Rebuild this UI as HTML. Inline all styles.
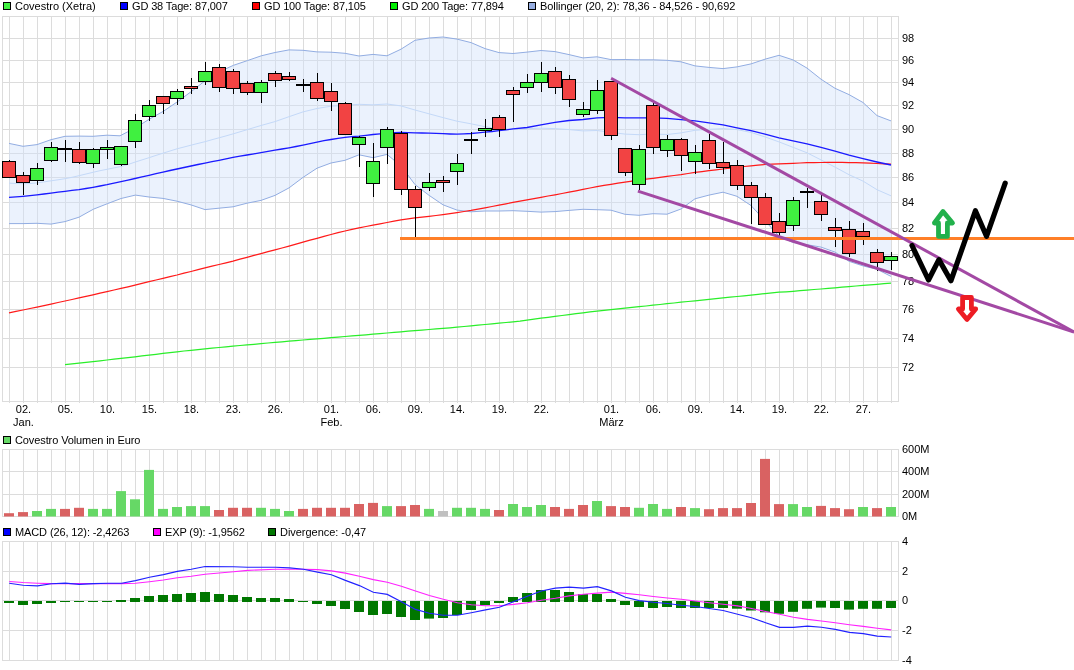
<!DOCTYPE html>
<html><head><meta charset="utf-8"><style>html,body{margin:0;padding:0;background:#fff;width:1074px;height:670px;overflow:hidden}</style></head>
<body>
<svg width="1074" height="670" viewBox="0 0 1074 670" style="display:block;will-change:transform">
<rect width="1074" height="670" fill="#fff"/>
<path d="M9.5 16 V403 M23.5 16 V403 M37.5 16 V403 M51.5 16 V403 M65.5 16 V403 M79.5 16 V403 M93.5 16 V403 M107.5 16 V403 M121.5 16 V403 M135.5 16 V403 M149.5 16 V403 M163.5 16 V403 M177.5 16 V403 M191.5 16 V403 M205.5 16 V403 M219.5 16 V403 M233.5 16 V403 M247.5 16 V403 M261.5 16 V403 M275.5 16 V403 M289.5 16 V403 M303.5 16 V403 M317.5 16 V403 M331.5 16 V403 M345.5 16 V403 M359.5 16 V403 M373.5 16 V403 M387.5 16 V403 M401.5 16 V403 M415.5 16 V403 M429.5 16 V403 M443.5 16 V403 M457.5 16 V403 M471.5 16 V403 M485.5 16 V403 M499.5 16 V403 M513.5 16 V403 M527.5 16 V403 M541.5 16 V403 M555.5 16 V403 M569.5 16 V403 M583.5 16 V403 M597.5 16 V403 M611.5 16 V403 M625.5 16 V403 M639.5 16 V403 M653.5 16 V403 M667.5 16 V403 M681.5 16 V403 M695.5 16 V403 M709.5 16 V403 M723.5 16 V403 M737.5 16 V403 M751.5 16 V403 M765.5 16 V403 M779.5 16 V403 M793.5 16 V403 M807.5 16 V403 M821.5 16 V403 M835.5 16 V403 M849.5 16 V403 M863.5 16 V403 M877.5 16 V403 M891.5 16 V403 M2 38.5 H898 M2 60.5 H898 M2 82.5 H898 M2 105.5 H898 M2 129.5 H898 M2 153.5 H898 M2 177.5 H898 M2 202.5 H898 M2 228.5 H898 M2 254.5 H898 M2 281.5 H898 M2 309.5 H898 M2 338.5 H898 M2 367.5 H898" stroke="#dcdcdc" stroke-width="1" fill="none"/>
<rect x="2.5" y="16.5" width="896" height="385" fill="none" stroke="#dcdcdc"/>
<polygon fill="rgb(208,224,250)" fill-opacity="0.42" stroke="none" points="9.0,143.4 23.0,146.3 37.0,144.6 51.0,139.7 65.0,136.3 79.0,136.1 93.0,136.3 107.0,135.2 120.0,135.8 135.5,127.8 149.4,119.1 163.5,111.2 177.5,101.7 191.5,91.4 205.5,80.4 219.4,71.7 233.5,65.3 247.4,60.6 261.3,55.8 275.0,52.5 289.0,49.9 303.0,50.3 317.0,51.9 331.0,52.2 345.0,53.3 359.0,56.0 373.0,54.4 387.0,55.8 401.0,49.2 415.0,40.3 429.0,38.0 443.0,37.0 457.0,39.1 471.0,42.6 485.0,48.6 499.0,52.6 513.0,53.5 527.0,52.1 541.0,50.5 555.0,51.6 569.0,54.6 583.0,57.9 597.0,56.8 611.0,59.6 625.0,59.5 639.0,59.8 653.0,59.8 667.0,60.3 681.0,61.8 695.0,65.9 709.0,67.4 723.0,68.6 737.0,66.9 751.0,63.9 765.0,59.2 779.0,55.3 793.0,59.9 807.0,68.1 821.0,79.2 835.0,88.3 849.0,94.6 863.0,102.5 877.0,115.6 891.0,120.9 891.0,276.4 877.0,269.3 863.0,265.9 849.0,261.3 835.0,252.1 821.0,247.1 807.0,244.7 793.0,242.5 779.0,236.2 765.0,220.8 751.0,205.5 737.0,196.3 723.0,192.2 709.0,195.1 695.0,198.8 681.0,209.0 667.0,214.2 653.0,213.7 639.0,215.3 625.0,214.3 611.0,210.2 597.0,209.7 583.0,209.3 569.0,210.4 555.0,211.6 541.0,212.1 527.0,211.3 513.0,210.7 499.0,211.0 485.0,211.0 471.0,211.8 457.0,210.1 443.0,204.8 429.0,195.3 415.0,184.6 401.0,165.9 387.0,154.4 373.0,157.7 359.0,154.8 345.0,160.3 331.0,163.0 317.0,168.2 303.0,177.4 289.0,187.9 275.0,195.4 261.0,200.4 247.0,203.2 233.0,206.8 219.0,208.2 205.0,209.6 191.0,204.9 177.0,201.2 163.0,198.4 149.0,197.0 135.4,195.1 121.0,198.5 107.6,203.6 93.4,209.2 79.0,217.2 65.0,221.6 51.0,224.1 37.0,223.3 23.0,223.6 9.0,223.6"/>
<polyline fill="none" stroke="#92ade2" stroke-width="1"  points="9.0,143.4 23.0,146.3 37.0,144.6 51.0,139.7 65.0,136.3 79.0,136.1 93.0,136.3 107.0,135.2 120.0,135.8 135.5,127.8 149.4,119.1 163.5,111.2 177.5,101.7 191.5,91.4 205.5,80.4 219.4,71.7 233.5,65.3 247.4,60.6 261.3,55.8 275.0,52.5 289.0,49.9 303.0,50.3 317.0,51.9 331.0,52.2 345.0,53.3 359.0,56.0 373.0,54.4 387.0,55.8 401.0,49.2 415.0,40.3 429.0,38.0 443.0,37.0 457.0,39.1 471.0,42.6 485.0,48.6 499.0,52.6 513.0,53.5 527.0,52.1 541.0,50.5 555.0,51.6 569.0,54.6 583.0,57.9 597.0,56.8 611.0,59.6 625.0,59.5 639.0,59.8 653.0,59.8 667.0,60.3 681.0,61.8 695.0,65.9 709.0,67.4 723.0,68.6 737.0,66.9 751.0,63.9 765.0,59.2 779.0,55.3 793.0,59.9 807.0,68.1 821.0,79.2 835.0,88.3 849.0,94.6 863.0,102.5 877.0,115.6 891.0,120.9"/>
<polyline fill="none" stroke="#92ade2" stroke-width="1"  points="9.0,223.6 23.0,223.6 37.0,223.3 51.0,224.1 65.0,221.6 79.0,217.2 93.4,209.2 107.6,203.6 121.0,198.5 135.4,195.1 149.0,197.0 163.0,198.4 177.0,201.2 191.0,204.9 205.0,209.6 219.0,208.2 233.0,206.8 247.0,203.2 261.0,200.4 275.0,195.4 289.0,187.9 303.0,177.4 317.0,168.2 331.0,163.0 345.0,160.3 359.0,154.8 373.0,157.7 387.0,154.4 401.0,165.9 415.0,184.6 429.0,195.3 443.0,204.8 457.0,210.1 471.0,211.8 485.0,211.0 499.0,211.0 513.0,210.7 527.0,211.3 541.0,212.1 555.0,211.6 569.0,210.4 583.0,209.3 597.0,209.7 611.0,210.2 625.0,214.3 639.0,215.3 653.0,213.7 667.0,214.2 681.0,209.0 695.0,198.8 709.0,195.1 723.0,192.2 737.0,196.3 751.0,205.5 765.0,220.8 779.0,236.2 793.0,242.5 807.0,244.7 821.0,247.1 835.0,252.1 849.0,261.3 863.0,265.9 877.0,269.3 891.0,276.4"/>
<polyline fill="none" stroke="#c4d9f8" stroke-width="1"  points="9.0,183.2 16.0,183.5 23.0,183.7 30.0,183.5 37.0,182.9 44.0,181.9 51.0,180.8 58.0,179.8 65.0,178.7 72.0,177.3 79.0,175.7 86.0,174.0 93.0,172.3 100.0,170.7 107.0,169.3 114.0,167.9 121.0,166.5 128.0,164.5 135.0,162.1 142.0,159.9 149.0,157.7 156.0,155.4 163.0,153.2 170.0,151.0 177.0,148.8 184.0,147.0 191.0,145.2 198.0,143.4 205.0,141.7 212.0,139.7 219.0,137.8 226.0,135.9 233.0,133.9 240.0,131.8 247.0,129.7 254.0,127.6 261.0,125.5 275.0,121.6 289.0,116.7 303.0,111.9 317.0,108.5 331.0,106.2 345.0,105.4 359.0,104.3 373.0,104.8 387.0,104.0 401.0,105.9 415.0,110.0 429.0,113.8 443.0,117.6 457.0,121.2 471.0,123.8 485.0,126.7 499.0,128.9 513.0,129.2 527.0,128.7 541.0,128.2 555.0,128.6 569.0,129.6 583.0,130.9 597.0,130.5 611.0,132.3 625.0,134.1 639.0,134.7 653.0,134.0 667.0,134.5 681.0,132.9 695.0,130.3 709.0,129.3 723.0,128.6 737.0,129.6 751.0,132.4 765.0,136.9 779.0,141.9 793.0,147.3 807.0,152.8 821.0,159.9 835.0,167.1 849.0,174.7 863.0,181.1 877.0,189.7 891.0,195.8"/>
<polyline fill="none" stroke="#2aee2a" stroke-width="1.2"  points="65.0,364.7 72.0,363.9 79.0,363.1 86.0,362.3 93.0,361.6 100.0,360.8 107.0,360.0 114.0,359.2 121.0,358.4 128.0,357.6 135.0,356.8 142.0,355.9 149.0,355.1 156.0,354.3 163.0,353.4 170.0,352.6 177.0,351.8 184.0,351.0 191.0,350.3 198.0,349.6 205.0,348.9 212.0,348.2 219.0,347.5 226.0,346.8 233.0,346.1 240.0,345.5 247.0,344.9 254.0,344.3 261.0,343.7 268.0,343.0 275.0,342.4 282.0,341.8 289.0,341.2 296.0,340.6 303.0,340.0 310.0,339.4 317.0,338.8 324.0,338.3 331.0,337.7 338.0,337.1 345.0,336.5 352.0,335.9 359.0,335.3 366.0,334.8 373.0,334.2 380.0,333.6 387.0,333.0 394.0,332.4 401.0,331.8 408.0,331.2 415.0,330.7 422.0,330.1 429.0,329.5 436.0,328.9 443.0,328.4 450.0,327.8 457.0,327.2 464.0,326.5 471.0,325.8 478.0,325.2 485.0,324.5 492.0,323.8 499.0,323.2 506.0,322.5 513.0,321.8 520.0,321.1 527.0,320.1 534.0,319.2 541.0,318.2 548.0,317.3 555.0,316.4 562.0,315.5 569.0,314.6 576.0,313.7 583.0,312.8 590.0,311.9 597.0,311.1 604.0,310.4 611.0,309.7 618.0,308.9 625.0,308.2 632.0,307.4 639.0,306.7 646.0,306.0 653.0,305.2 660.0,304.5 667.0,303.7 674.0,303.0 681.0,302.2 688.0,301.5 695.0,300.8 702.0,300.1 709.0,299.4 716.0,298.7 723.0,297.9 730.0,297.2 737.0,296.5 744.0,295.8 751.0,295.1 758.0,294.3 765.0,293.6 772.0,292.9 779.0,292.2 786.0,291.8 793.0,291.3 800.0,290.7 807.0,290.1 814.0,289.5 821.0,289.0 828.0,288.4 835.0,287.8 842.0,287.2 849.0,286.6 856.0,286.0 863.0,285.4 870.0,284.9 877.0,284.3 884.0,283.7 891.0,283.1"/>
<polyline fill="none" stroke="#ff1a1a" stroke-width="1.2"  points="9.0,312.9 16.0,311.4 23.0,310.0 30.0,308.5 37.0,307.1 44.0,305.6 51.0,304.1 58.0,302.5 65.0,301.0 72.0,299.5 79.0,297.9 86.0,296.3 93.0,294.8 100.0,293.2 107.0,291.6 114.0,290.0 121.0,288.4 128.0,286.8 135.0,285.1 142.0,283.4 149.0,281.7 156.0,280.0 163.0,278.3 170.0,276.6 177.0,275.0 184.0,273.2 191.0,271.5 198.0,269.7 205.0,267.9 212.0,266.2 219.0,264.5 226.0,262.8 233.0,261.1 240.0,259.2 247.0,257.3 254.0,255.4 261.0,253.6 268.0,251.7 275.0,249.8 282.0,248.0 289.0,246.1 296.0,244.1 303.0,242.1 310.0,240.2 317.0,238.3 324.0,236.4 331.0,234.5 338.0,232.7 345.0,231.0 352.0,229.4 359.0,227.9 366.0,226.5 373.0,225.2 380.0,223.9 387.0,222.5 394.0,221.2 401.0,219.9 408.0,218.8 415.0,217.9 422.0,217.1 429.0,216.3 436.0,215.5 443.0,214.6 450.0,213.6 457.0,212.6 464.0,211.5 471.0,210.4 478.0,209.1 485.0,207.8 492.0,206.5 499.0,205.2 506.0,203.8 513.0,202.4 520.0,201.1 527.0,199.9 534.0,198.6 541.0,197.3 548.0,196.0 555.0,194.8 562.0,193.5 569.0,192.2 576.0,190.8 583.0,189.4 590.0,188.0 597.0,186.6 604.0,185.4 611.0,184.3 618.0,183.2 625.0,182.2 632.0,181.2 639.0,180.2 646.0,179.2 653.0,178.3 660.0,177.3 667.0,176.4 674.0,175.5 681.0,174.6 688.0,173.5 695.0,172.4 702.0,171.6 709.0,170.7 716.0,169.9 723.0,169.0 730.0,168.2 737.0,167.3 744.0,166.5 751.0,165.8 758.0,165.2 765.0,164.5 772.0,164.2 779.0,163.9 786.0,163.6 793.0,163.3 800.0,163.0 807.0,162.7 814.0,162.6 821.0,162.5 828.0,162.4 835.0,162.3 842.0,162.4 849.0,162.6 856.0,162.7 863.0,162.9 870.0,163.2 877.0,163.5 884.0,163.9 891.0,164.2"/>
<polyline fill="none" stroke="#1a1aff" stroke-width="1.3"  points="9.0,197.4 16.0,196.9 23.0,196.3 30.0,195.6 37.0,194.8 44.0,194.0 51.0,193.1 58.0,192.2 65.0,191.3 72.0,190.4 79.0,189.6 86.0,188.5 93.0,187.3 100.0,186.0 107.0,184.7 114.0,183.2 121.0,181.7 128.0,180.1 135.0,178.5 142.0,176.9 149.0,175.3 156.0,173.7 163.0,172.1 170.0,170.5 177.0,169.0 184.0,167.5 191.0,166.0 198.0,164.5 205.0,163.1 212.0,161.7 219.0,160.3 226.0,158.8 233.0,157.4 240.0,156.2 247.0,155.0 254.0,153.8 261.0,152.6 268.0,151.4 275.0,150.2 282.0,149.0 289.0,147.8 296.0,146.5 303.0,145.1 310.0,143.6 317.0,142.1 324.0,140.7 331.0,139.5 338.0,138.4 345.0,137.4 352.0,136.7 359.0,136.1 366.0,135.3 373.0,134.5 380.0,133.8 387.0,133.1 394.0,132.7 401.0,132.5 408.0,132.6 415.0,132.8 422.0,133.0 429.0,133.2 436.0,133.4 443.0,133.7 450.0,134.0 457.0,134.2 464.0,133.9 471.0,133.5 478.0,132.9 485.0,132.2 492.0,131.5 499.0,130.7 506.0,129.8 513.0,128.9 527.0,127.5 541.0,124.8 555.0,122.3 569.0,120.5 583.0,119.5 597.0,117.9 611.0,117.3 625.0,117.8 639.0,117.9 653.0,117.9 667.0,118.4 681.0,119.6 695.0,120.9 709.0,122.8 723.0,124.9 737.0,127.8 751.0,130.7 765.0,134.2 779.0,137.8 793.0,140.9 807.0,143.9 821.0,147.4 835.0,151.2 849.0,155.2 863.0,158.7 877.0,162.0 891.0,165.0"/>
<rect x="9" y="160" width="1" height="18" fill="#000"/>
<rect x="2.5" y="161.5" width="13" height="16" fill="#f24343" stroke="#000" stroke-width="1"/>
<rect x="23" y="172" width="1" height="23" fill="#000"/>
<rect x="16.5" y="175.5" width="13" height="7" fill="#f24343" stroke="#000" stroke-width="1"/>
<rect x="37" y="163" width="1" height="22" fill="#000"/>
<rect x="30.5" y="168.5" width="13" height="12" fill="#40f040" stroke="#000" stroke-width="1"/>
<rect x="51" y="142" width="1" height="20" fill="#000"/>
<rect x="44.5" y="147.5" width="13" height="13" fill="#40f040" stroke="#000" stroke-width="1"/>
<rect x="65" y="140" width="1" height="22" fill="#000"/>
<rect x="58" y="148" width="14" height="2" fill="#000"/>
<rect x="79" y="142" width="1" height="22" fill="#000"/>
<rect x="72.5" y="149.5" width="13" height="13" fill="#f24343" stroke="#000" stroke-width="1"/>
<rect x="93" y="148" width="1" height="20" fill="#000"/>
<rect x="86.5" y="149.5" width="13" height="14" fill="#40f040" stroke="#000" stroke-width="1"/>
<rect x="107" y="140" width="1" height="19" fill="#000"/>
<rect x="100.5" y="147.5" width="13" height="2" fill="#40f040" stroke="#000" stroke-width="1"/>
<rect x="121" y="146" width="1" height="20" fill="#000"/>
<rect x="114.5" y="146.5" width="13" height="18" fill="#40f040" stroke="#000" stroke-width="1"/>
<rect x="135" y="114" width="1" height="34" fill="#000"/>
<rect x="128.5" y="120.5" width="13" height="21" fill="#40f040" stroke="#000" stroke-width="1"/>
<rect x="149" y="100" width="1" height="21" fill="#000"/>
<rect x="142.5" y="105.5" width="13" height="11" fill="#40f040" stroke="#000" stroke-width="1"/>
<rect x="163" y="96" width="1" height="18" fill="#000"/>
<rect x="156.5" y="96.5" width="13" height="7" fill="#f24343" stroke="#000" stroke-width="1"/>
<rect x="177" y="89" width="1" height="16" fill="#000"/>
<rect x="170.5" y="91.5" width="13" height="7" fill="#40f040" stroke="#000" stroke-width="1"/>
<rect x="191" y="78" width="1" height="16" fill="#000"/>
<rect x="184.5" y="86.5" width="13" height="2" fill="#f24343" stroke="#000" stroke-width="1"/>
<rect x="205" y="62" width="1" height="23" fill="#000"/>
<rect x="198.5" y="71.5" width="13" height="10" fill="#40f040" stroke="#000" stroke-width="1"/>
<rect x="219" y="64" width="1" height="28" fill="#000"/>
<rect x="212.5" y="67.5" width="13" height="20" fill="#f24343" stroke="#000" stroke-width="1"/>
<rect x="233" y="69" width="1" height="25" fill="#000"/>
<rect x="226.5" y="71.5" width="13" height="17" fill="#f24343" stroke="#000" stroke-width="1"/>
<rect x="247" y="81" width="1" height="14" fill="#000"/>
<rect x="240.5" y="83.5" width="13" height="9" fill="#f24343" stroke="#000" stroke-width="1"/>
<rect x="261" y="80" width="1" height="23" fill="#000"/>
<rect x="254.5" y="82.5" width="13" height="10" fill="#40f040" stroke="#000" stroke-width="1"/>
<rect x="275" y="71" width="1" height="16" fill="#000"/>
<rect x="268.5" y="73.5" width="13" height="7" fill="#f24343" stroke="#000" stroke-width="1"/>
<rect x="289" y="72" width="1" height="9" fill="#000"/>
<rect x="282.5" y="76.5" width="13" height="3" fill="#f24343" stroke="#000" stroke-width="1"/>
<rect x="303" y="79" width="1" height="13" fill="#000"/>
<rect x="296" y="84" width="14" height="2" fill="#000"/>
<rect x="317" y="73" width="1" height="28" fill="#000"/>
<rect x="310.5" y="82.5" width="13" height="16" fill="#f24343" stroke="#000" stroke-width="1"/>
<rect x="331" y="83" width="1" height="28" fill="#000"/>
<rect x="324.5" y="91.5" width="13" height="10" fill="#f24343" stroke="#000" stroke-width="1"/>
<rect x="345" y="102" width="1" height="33" fill="#000"/>
<rect x="338.5" y="103.5" width="13" height="31" fill="#f24343" stroke="#000" stroke-width="1"/>
<rect x="359" y="136" width="1" height="31" fill="#000"/>
<rect x="352.5" y="137.5" width="13" height="7" fill="#40f040" stroke="#000" stroke-width="1"/>
<rect x="373" y="143" width="1" height="54" fill="#000"/>
<rect x="366.5" y="161.5" width="13" height="22" fill="#40f040" stroke="#000" stroke-width="1"/>
<rect x="387" y="127" width="1" height="37" fill="#000"/>
<rect x="380.5" y="129.5" width="13" height="18" fill="#40f040" stroke="#000" stroke-width="1"/>
<rect x="401" y="131" width="1" height="64" fill="#000"/>
<rect x="394.5" y="133.5" width="13" height="56" fill="#f24343" stroke="#000" stroke-width="1"/>
<rect x="415" y="186" width="1" height="51" fill="#000"/>
<rect x="408.5" y="189.5" width="13" height="18" fill="#f24343" stroke="#000" stroke-width="1"/>
<rect x="429" y="173" width="1" height="18" fill="#000"/>
<rect x="422.5" y="182.5" width="13" height="5" fill="#40f040" stroke="#000" stroke-width="1"/>
<rect x="443" y="176" width="1" height="16" fill="#000"/>
<rect x="436.5" y="180.5" width="13" height="2" fill="#f24343" stroke="#000" stroke-width="1"/>
<rect x="457" y="154" width="1" height="31" fill="#000"/>
<rect x="450.5" y="163.5" width="13" height="8" fill="#40f040" stroke="#000" stroke-width="1"/>
<rect x="471" y="132" width="1" height="22" fill="#000"/>
<rect x="464" y="139" width="14" height="2" fill="#000"/>
<rect x="485" y="119" width="1" height="18" fill="#000"/>
<rect x="478.5" y="128.5" width="13" height="2" fill="#40f040" stroke="#000" stroke-width="1"/>
<rect x="499" y="115" width="1" height="22" fill="#000"/>
<rect x="492.5" y="117.5" width="13" height="12" fill="#f24343" stroke="#000" stroke-width="1"/>
<rect x="513" y="87" width="1" height="35" fill="#000"/>
<rect x="506.5" y="90.5" width="13" height="4" fill="#f24343" stroke="#000" stroke-width="1"/>
<rect x="527" y="74" width="1" height="19" fill="#000"/>
<rect x="520.5" y="82.5" width="13" height="5" fill="#40f040" stroke="#000" stroke-width="1"/>
<rect x="541" y="62" width="1" height="30" fill="#000"/>
<rect x="534.5" y="73.5" width="13" height="9" fill="#40f040" stroke="#000" stroke-width="1"/>
<rect x="555" y="67" width="1" height="27" fill="#000"/>
<rect x="548.5" y="71.5" width="13" height="16" fill="#f24343" stroke="#000" stroke-width="1"/>
<rect x="569" y="75" width="1" height="32" fill="#000"/>
<rect x="562.5" y="79.5" width="13" height="20" fill="#f24343" stroke="#000" stroke-width="1"/>
<rect x="583" y="102" width="1" height="15" fill="#000"/>
<rect x="576.5" y="109.5" width="13" height="5" fill="#40f040" stroke="#000" stroke-width="1"/>
<rect x="597" y="80" width="1" height="34" fill="#000"/>
<rect x="590.5" y="90.5" width="13" height="20" fill="#40f040" stroke="#000" stroke-width="1"/>
<rect x="611" y="81" width="1" height="59" fill="#000"/>
<rect x="604.5" y="81.5" width="13" height="54" fill="#f24343" stroke="#000" stroke-width="1"/>
<rect x="625" y="148" width="1" height="28" fill="#000"/>
<rect x="618.5" y="148.5" width="13" height="24" fill="#f24343" stroke="#000" stroke-width="1"/>
<rect x="639" y="145" width="1" height="45" fill="#000"/>
<rect x="632.5" y="149.5" width="13" height="35" fill="#40f040" stroke="#000" stroke-width="1"/>
<rect x="653" y="103" width="1" height="51" fill="#000"/>
<rect x="646.5" y="105.5" width="13" height="42" fill="#f24343" stroke="#000" stroke-width="1"/>
<rect x="667" y="135" width="1" height="22" fill="#000"/>
<rect x="660.5" y="139.5" width="13" height="11" fill="#40f040" stroke="#000" stroke-width="1"/>
<rect x="681" y="138" width="1" height="33" fill="#000"/>
<rect x="674.5" y="139.5" width="13" height="16" fill="#f24343" stroke="#000" stroke-width="1"/>
<rect x="695" y="145" width="1" height="29" fill="#000"/>
<rect x="688.5" y="152.5" width="13" height="9" fill="#40f040" stroke="#000" stroke-width="1"/>
<rect x="709" y="134" width="1" height="35" fill="#000"/>
<rect x="702.5" y="140.5" width="13" height="23" fill="#f24343" stroke="#000" stroke-width="1"/>
<rect x="723" y="142" width="1" height="32" fill="#000"/>
<rect x="716.5" y="162.5" width="13" height="5" fill="#f24343" stroke="#000" stroke-width="1"/>
<rect x="737" y="160" width="1" height="30" fill="#000"/>
<rect x="730.5" y="165.5" width="13" height="20" fill="#f24343" stroke="#000" stroke-width="1"/>
<rect x="751" y="182" width="1" height="42" fill="#000"/>
<rect x="744.5" y="185.5" width="13" height="12" fill="#f24343" stroke="#000" stroke-width="1"/>
<rect x="765" y="193" width="1" height="31" fill="#000"/>
<rect x="758.5" y="197.5" width="13" height="27" fill="#f24343" stroke="#000" stroke-width="1"/>
<rect x="779" y="213" width="1" height="23" fill="#000"/>
<rect x="772.5" y="221.5" width="13" height="11" fill="#f24343" stroke="#000" stroke-width="1"/>
<rect x="793" y="197" width="1" height="34" fill="#000"/>
<rect x="786.5" y="200.5" width="13" height="25" fill="#40f040" stroke="#000" stroke-width="1"/>
<rect x="807" y="188" width="1" height="20" fill="#000"/>
<rect x="800" y="191" width="14" height="2" fill="#000"/>
<rect x="821" y="195" width="1" height="26" fill="#000"/>
<rect x="814.5" y="201.5" width="13" height="13" fill="#f24343" stroke="#000" stroke-width="1"/>
<rect x="835" y="218" width="1" height="29" fill="#000"/>
<rect x="828.5" y="227.5" width="13" height="3" fill="#f24343" stroke="#000" stroke-width="1"/>
<rect x="849" y="221" width="1" height="36" fill="#000"/>
<rect x="842.5" y="229.5" width="13" height="24" fill="#f24343" stroke="#000" stroke-width="1"/>
<rect x="863" y="223" width="1" height="22" fill="#000"/>
<rect x="856.5" y="231.5" width="13" height="5" fill="#f24343" stroke="#000" stroke-width="1"/>
<rect x="877" y="249" width="1" height="22" fill="#000"/>
<rect x="870.5" y="252.5" width="13" height="10" fill="#f24343" stroke="#000" stroke-width="1"/>
<rect x="891" y="252" width="1" height="18" fill="#000"/>
<rect x="884.5" y="256.5" width="13" height="4" fill="#40f040" stroke="#000" stroke-width="1"/>
<text x="902" y="42" font-family="Liberation Sans, sans-serif" font-size="11" fill="#000">98</text>
<text x="902" y="64" font-family="Liberation Sans, sans-serif" font-size="11" fill="#000">96</text>
<text x="902" y="86" font-family="Liberation Sans, sans-serif" font-size="11" fill="#000">94</text>
<text x="902" y="109" font-family="Liberation Sans, sans-serif" font-size="11" fill="#000">92</text>
<text x="902" y="133" font-family="Liberation Sans, sans-serif" font-size="11" fill="#000">90</text>
<text x="902" y="157" font-family="Liberation Sans, sans-serif" font-size="11" fill="#000">88</text>
<text x="902" y="181" font-family="Liberation Sans, sans-serif" font-size="11" fill="#000">86</text>
<text x="902" y="206" font-family="Liberation Sans, sans-serif" font-size="11" fill="#000">84</text>
<text x="902" y="232" font-family="Liberation Sans, sans-serif" font-size="11" fill="#000">82</text>
<text x="902" y="258" font-family="Liberation Sans, sans-serif" font-size="11" fill="#000">80</text>
<text x="902" y="285" font-family="Liberation Sans, sans-serif" font-size="11" fill="#000">78</text>
<text x="902" y="313" font-family="Liberation Sans, sans-serif" font-size="11" fill="#000">76</text>
<text x="902" y="342" font-family="Liberation Sans, sans-serif" font-size="11" fill="#000">74</text>
<text x="902" y="371" font-family="Liberation Sans, sans-serif" font-size="11" fill="#000">72</text>
<text x="23.5" y="413" text-anchor="middle" font-family="Liberation Sans, sans-serif" font-size="11" fill="#000">02.</text>
<text x="65.5" y="413" text-anchor="middle" font-family="Liberation Sans, sans-serif" font-size="11" fill="#000">05.</text>
<text x="107.5" y="413" text-anchor="middle" font-family="Liberation Sans, sans-serif" font-size="11" fill="#000">10.</text>
<text x="149.5" y="413" text-anchor="middle" font-family="Liberation Sans, sans-serif" font-size="11" fill="#000">15.</text>
<text x="191.5" y="413" text-anchor="middle" font-family="Liberation Sans, sans-serif" font-size="11" fill="#000">18.</text>
<text x="233.5" y="413" text-anchor="middle" font-family="Liberation Sans, sans-serif" font-size="11" fill="#000">23.</text>
<text x="275.5" y="413" text-anchor="middle" font-family="Liberation Sans, sans-serif" font-size="11" fill="#000">26.</text>
<text x="331.5" y="413" text-anchor="middle" font-family="Liberation Sans, sans-serif" font-size="11" fill="#000">01.</text>
<text x="373.5" y="413" text-anchor="middle" font-family="Liberation Sans, sans-serif" font-size="11" fill="#000">06.</text>
<text x="415.5" y="413" text-anchor="middle" font-family="Liberation Sans, sans-serif" font-size="11" fill="#000">09.</text>
<text x="457.5" y="413" text-anchor="middle" font-family="Liberation Sans, sans-serif" font-size="11" fill="#000">14.</text>
<text x="499.5" y="413" text-anchor="middle" font-family="Liberation Sans, sans-serif" font-size="11" fill="#000">19.</text>
<text x="541.5" y="413" text-anchor="middle" font-family="Liberation Sans, sans-serif" font-size="11" fill="#000">22.</text>
<text x="611.5" y="413" text-anchor="middle" font-family="Liberation Sans, sans-serif" font-size="11" fill="#000">01.</text>
<text x="653.5" y="413" text-anchor="middle" font-family="Liberation Sans, sans-serif" font-size="11" fill="#000">06.</text>
<text x="695.5" y="413" text-anchor="middle" font-family="Liberation Sans, sans-serif" font-size="11" fill="#000">09.</text>
<text x="737.5" y="413" text-anchor="middle" font-family="Liberation Sans, sans-serif" font-size="11" fill="#000">14.</text>
<text x="779.5" y="413" text-anchor="middle" font-family="Liberation Sans, sans-serif" font-size="11" fill="#000">19.</text>
<text x="821.5" y="413" text-anchor="middle" font-family="Liberation Sans, sans-serif" font-size="11" fill="#000">22.</text>
<text x="863.5" y="413" text-anchor="middle" font-family="Liberation Sans, sans-serif" font-size="11" fill="#000">27.</text>
<text x="23.5" y="426" text-anchor="middle" font-family="Liberation Sans, sans-serif" font-size="11" fill="#000">Jan.</text>
<text x="331.5" y="426" text-anchor="middle" font-family="Liberation Sans, sans-serif" font-size="11" fill="#000">Feb.</text>
<text x="611.5" y="426" text-anchor="middle" font-family="Liberation Sans, sans-serif" font-size="11" fill="#000">März</text>
<rect x="400" y="237" width="674" height="3" fill="#ff7f27"/><line x1="611.1" y1="78.2" x2="1074" y2="332" stroke="#a349a4" stroke-width="3"/><line x1="637.9" y1="191.1" x2="1074" y2="332" stroke="#a349a4" stroke-width="3"/><polyline fill="none" stroke="#000" stroke-width="5.2" stroke-linejoin="round" stroke-linecap="round" points="912,245.5 928.5,280 938.9,259.6 950.9,280.8 975.4,210.8 986.5,236.3 1005.2,183.2"/><polygon fill="#fff" stroke="#22b14c" stroke-width="4.8" stroke-linejoin="round" points="943,211.5 952.5,223 947.4,223 947.4,236.4 938.5,236.4 938.5,223 934.4,223"/><polygon fill="#fff" stroke="#ed1c24" stroke-width="4.8" stroke-linejoin="round" points="962.6,297.5 971.4,297.5 971.4,309 975.7,309 967,319.5 958.4,309 962.6,309"/>
<rect x="3.5" y="2.5" width="7" height="7" fill="#40f040" stroke="#000" stroke-width="1"/><text x="15.0" y="10" font-family="Liberation Sans, sans-serif" font-size="11" fill="#000">Covestro (Xetra)</text>
<rect x="120.5" y="2.5" width="7" height="7" fill="#0000ff" stroke="#000" stroke-width="1"/><text x="132.0" y="10" textLength="95.88" lengthAdjust="spacing" font-family="Liberation Sans, sans-serif" font-size="11" fill="#000">GD 38 Tage: 87,007</text>
<rect x="252.5" y="2.5" width="7" height="7" fill="#ff0000" stroke="#000" stroke-width="1"/><text x="264.0" y="10" textLength="101.89" lengthAdjust="spacing" font-family="Liberation Sans, sans-serif" font-size="11" fill="#000">GD 100 Tage: 87,105</text>
<rect x="390.5" y="2.5" width="7" height="7" fill="#00ee00" stroke="#000" stroke-width="1"/><text x="402.0" y="10" textLength="101.89" lengthAdjust="spacing" font-family="Liberation Sans, sans-serif" font-size="11" fill="#000">GD 200 Tage: 77,894</text>
<rect x="528.5" y="2.5" width="7" height="7" fill="#96ade0" stroke="#000" stroke-width="1"/><text x="540.0" y="10" textLength="195.33" lengthAdjust="spacing" font-family="Liberation Sans, sans-serif" font-size="11" fill="#000">Bollinger (20, 2): 78,36 - 84,526 - 90,692</text>
<rect x="3.5" y="436.5" width="7" height="7" fill="#66d966" stroke="#000" stroke-width="1"/><text x="15.0" y="444" textLength="125.40" lengthAdjust="spacing" font-family="Liberation Sans, sans-serif" font-size="11" fill="#000">Covestro Volumen in Euro</text>
<path d="M9.5 449 V516 M23.5 449 V516 M37.5 449 V516 M51.5 449 V516 M65.5 449 V516 M79.5 449 V516 M93.5 449 V516 M107.5 449 V516 M121.5 449 V516 M135.5 449 V516 M149.5 449 V516 M163.5 449 V516 M177.5 449 V516 M191.5 449 V516 M205.5 449 V516 M219.5 449 V516 M233.5 449 V516 M247.5 449 V516 M261.5 449 V516 M275.5 449 V516 M289.5 449 V516 M303.5 449 V516 M317.5 449 V516 M331.5 449 V516 M345.5 449 V516 M359.5 449 V516 M373.5 449 V516 M387.5 449 V516 M401.5 449 V516 M415.5 449 V516 M429.5 449 V516 M443.5 449 V516 M457.5 449 V516 M471.5 449 V516 M485.5 449 V516 M499.5 449 V516 M513.5 449 V516 M527.5 449 V516 M541.5 449 V516 M555.5 449 V516 M569.5 449 V516 M583.5 449 V516 M597.5 449 V516 M611.5 449 V516 M625.5 449 V516 M639.5 449 V516 M653.5 449 V516 M667.5 449 V516 M681.5 449 V516 M695.5 449 V516 M709.5 449 V516 M723.5 449 V516 M737.5 449 V516 M751.5 449 V516 M765.5 449 V516 M779.5 449 V516 M793.5 449 V516 M807.5 449 V516 M821.5 449 V516 M835.5 449 V516 M849.5 449 V516 M863.5 449 V516 M877.5 449 V516 M891.5 449 V516 M2 471.5 H898 M2 494.5 H898" stroke="#dcdcdc" stroke-width="1" fill="none"/>
<rect x="2.5" y="449.5" width="896" height="67" fill="none" stroke="#dcdcdc"/>
<rect x="4" y="513.2" width="10" height="3.3" fill="#d96262"/>
<rect x="18" y="512.1" width="10" height="4.4" fill="#d96262"/>
<rect x="32" y="511.0" width="10" height="5.5" fill="#66d866"/>
<rect x="46" y="508.9" width="10" height="7.6" fill="#66d866"/>
<rect x="60" y="508.9" width="10" height="7.6" fill="#d96262"/>
<rect x="74" y="507.8" width="10" height="8.7" fill="#d96262"/>
<rect x="88" y="508.9" width="10" height="7.6" fill="#66d866"/>
<rect x="102" y="508.9" width="10" height="7.6" fill="#66d866"/>
<rect x="116" y="491.1" width="10" height="25.4" fill="#66d866"/>
<rect x="130" y="499.3" width="10" height="17.2" fill="#66d866"/>
<rect x="144" y="469.9" width="10" height="46.6" fill="#66d866"/>
<rect x="158" y="508.9" width="10" height="7.6" fill="#66d866"/>
<rect x="172" y="507.0" width="10" height="9.5" fill="#66d866"/>
<rect x="186" y="506.1" width="10" height="10.4" fill="#66d866"/>
<rect x="200" y="506.1" width="10" height="10.4" fill="#66d866"/>
<rect x="214" y="510.0" width="10" height="6.5" fill="#d96262"/>
<rect x="228" y="507.8" width="10" height="8.7" fill="#d96262"/>
<rect x="242" y="507.8" width="10" height="8.7" fill="#d96262"/>
<rect x="256" y="507.8" width="10" height="8.7" fill="#66d866"/>
<rect x="270" y="508.9" width="10" height="7.6" fill="#66d866"/>
<rect x="284" y="511.0" width="10" height="5.5" fill="#66d866"/>
<rect x="298" y="508.9" width="10" height="7.6" fill="#d96262"/>
<rect x="312" y="507.8" width="10" height="8.7" fill="#d96262"/>
<rect x="326" y="507.8" width="10" height="8.7" fill="#d96262"/>
<rect x="340" y="507.8" width="10" height="8.7" fill="#d96262"/>
<rect x="354" y="504.0" width="10" height="12.5" fill="#d96262"/>
<rect x="368" y="502.9" width="10" height="13.6" fill="#d96262"/>
<rect x="382" y="506.1" width="10" height="10.4" fill="#66d866"/>
<rect x="396" y="506.1" width="10" height="10.4" fill="#d96262"/>
<rect x="410" y="505.0" width="10" height="11.5" fill="#d96262"/>
<rect x="424" y="508.9" width="10" height="7.6" fill="#66d866"/>
<rect x="438" y="511.0" width="10" height="5.5" fill="#c0c0c0"/>
<rect x="452" y="507.8" width="10" height="8.7" fill="#66d866"/>
<rect x="466" y="507.8" width="10" height="8.7" fill="#66d866"/>
<rect x="480" y="508.9" width="10" height="7.6" fill="#66d866"/>
<rect x="494" y="510.0" width="10" height="6.5" fill="#d96262"/>
<rect x="508" y="504.0" width="10" height="12.5" fill="#66d866"/>
<rect x="522" y="507.0" width="10" height="9.5" fill="#66d866"/>
<rect x="536" y="505.0" width="10" height="11.5" fill="#66d866"/>
<rect x="550" y="507.0" width="10" height="9.5" fill="#d96262"/>
<rect x="564" y="508.9" width="10" height="7.6" fill="#d96262"/>
<rect x="578" y="505.0" width="10" height="11.5" fill="#d96262"/>
<rect x="592" y="501.0" width="10" height="15.5" fill="#66d866"/>
<rect x="606" y="506.1" width="10" height="10.4" fill="#d96262"/>
<rect x="620" y="507.0" width="10" height="9.5" fill="#d96262"/>
<rect x="634" y="507.8" width="10" height="8.7" fill="#66d866"/>
<rect x="648" y="504.0" width="10" height="12.5" fill="#66d866"/>
<rect x="662" y="508.9" width="10" height="7.6" fill="#66d866"/>
<rect x="676" y="507.0" width="10" height="9.5" fill="#d96262"/>
<rect x="690" y="508.1" width="10" height="8.4" fill="#66d866"/>
<rect x="704" y="509.2" width="10" height="7.3" fill="#d96262"/>
<rect x="718" y="508.1" width="10" height="8.4" fill="#d96262"/>
<rect x="732" y="508.1" width="10" height="8.4" fill="#d96262"/>
<rect x="746" y="503.0" width="10" height="13.5" fill="#d96262"/>
<rect x="760" y="458.9" width="10" height="57.6" fill="#d96262"/>
<rect x="774" y="504.1" width="10" height="12.4" fill="#d96262"/>
<rect x="788" y="504.1" width="10" height="12.4" fill="#66d866"/>
<rect x="802" y="507.0" width="10" height="9.5" fill="#66d866"/>
<rect x="816" y="505.9" width="10" height="10.6" fill="#d96262"/>
<rect x="830" y="508.1" width="10" height="8.4" fill="#d96262"/>
<rect x="844" y="509.2" width="10" height="7.3" fill="#d96262"/>
<rect x="858" y="507.0" width="10" height="9.5" fill="#66d866"/>
<rect x="872" y="508.1" width="10" height="8.4" fill="#d96262"/>
<rect x="886" y="507.0" width="10" height="9.5" fill="#66d866"/>
<text x="902" y="453" font-family="Liberation Sans, sans-serif" font-size="11" fill="#000">600M</text>
<text x="902" y="475" font-family="Liberation Sans, sans-serif" font-size="11" fill="#000">400M</text>
<text x="902" y="498" font-family="Liberation Sans, sans-serif" font-size="11" fill="#000">200M</text>
<text x="902" y="520" font-family="Liberation Sans, sans-serif" font-size="11" fill="#000">0M</text>
<rect x="3.5" y="528.5" width="7" height="7" fill="#0000ff" stroke="#000" stroke-width="1"/><text x="15.0" y="536" textLength="114.47" lengthAdjust="spacing" font-family="Liberation Sans, sans-serif" font-size="11" fill="#000">MACD (26, 12): -2,4263</text>
<rect x="153.5" y="528.5" width="7" height="7" fill="#ff00ff" stroke="#000" stroke-width="1"/><text x="165.0" y="536" textLength="79.83" lengthAdjust="spacing" font-family="Liberation Sans, sans-serif" font-size="11" fill="#000">EXP (9): -1,9562</text>
<rect x="268.5" y="528.5" width="7" height="7" fill="#007700" stroke="#000" stroke-width="1"/><text x="280.0" y="536" textLength="86.22" lengthAdjust="spacing" font-family="Liberation Sans, sans-serif" font-size="11" fill="#000">Divergence: -0,47</text>
<path d="M9.5 541 V660 M23.5 541 V660 M37.5 541 V660 M51.5 541 V660 M65.5 541 V660 M79.5 541 V660 M93.5 541 V660 M107.5 541 V660 M121.5 541 V660 M135.5 541 V660 M149.5 541 V660 M163.5 541 V660 M177.5 541 V660 M191.5 541 V660 M205.5 541 V660 M219.5 541 V660 M233.5 541 V660 M247.5 541 V660 M261.5 541 V660 M275.5 541 V660 M289.5 541 V660 M303.5 541 V660 M317.5 541 V660 M331.5 541 V660 M345.5 541 V660 M359.5 541 V660 M373.5 541 V660 M387.5 541 V660 M401.5 541 V660 M415.5 541 V660 M429.5 541 V660 M443.5 541 V660 M457.5 541 V660 M471.5 541 V660 M485.5 541 V660 M499.5 541 V660 M513.5 541 V660 M527.5 541 V660 M541.5 541 V660 M555.5 541 V660 M569.5 541 V660 M583.5 541 V660 M597.5 541 V660 M611.5 541 V660 M625.5 541 V660 M639.5 541 V660 M653.5 541 V660 M667.5 541 V660 M681.5 541 V660 M695.5 541 V660 M709.5 541 V660 M723.5 541 V660 M737.5 541 V660 M751.5 541 V660 M765.5 541 V660 M779.5 541 V660 M793.5 541 V660 M807.5 541 V660 M821.5 541 V660 M835.5 541 V660 M849.5 541 V660 M863.5 541 V660 M877.5 541 V660 M891.5 541 V660 M2 571.5 H898 M2 600.5 H898 M2 630.5 H898" stroke="#dcdcdc" stroke-width="1" fill="none"/>
<rect x="2.5" y="541.5" width="896" height="119" fill="none" stroke="#dcdcdc"/>
<rect x="4" y="601" width="10" height="2.0" fill="#007700"/>
<rect x="18" y="601" width="10" height="4.0" fill="#007700"/>
<rect x="32" y="601" width="10" height="3.0" fill="#007700"/>
<rect x="46" y="601" width="10" height="2.0" fill="#007700"/>
<rect x="60" y="601" width="10" height="1.0" fill="#007700"/>
<rect x="74" y="601" width="10" height="1.0" fill="#007700"/>
<rect x="88" y="601" width="10" height="1.0" fill="#007700"/>
<rect x="102" y="601" width="10" height="1.0" fill="#007700"/>
<rect x="116" y="600.0" width="10" height="2.0" fill="#007700"/>
<rect x="130" y="598.0" width="10" height="4.0" fill="#007700"/>
<rect x="144" y="596.0" width="10" height="6.0" fill="#007700"/>
<rect x="158" y="595.0" width="10" height="7.0" fill="#007700"/>
<rect x="172" y="594.0" width="10" height="8.0" fill="#007700"/>
<rect x="186" y="593.0" width="10" height="9.0" fill="#007700"/>
<rect x="200" y="592.0" width="10" height="10.0" fill="#007700"/>
<rect x="214" y="594.0" width="10" height="8.0" fill="#007700"/>
<rect x="228" y="595.0" width="10" height="7.0" fill="#007700"/>
<rect x="242" y="597.0" width="10" height="5.0" fill="#007700"/>
<rect x="256" y="598.0" width="10" height="4.0" fill="#007700"/>
<rect x="270" y="598.0" width="10" height="4.0" fill="#007700"/>
<rect x="284" y="599.0" width="10" height="3.0" fill="#007700"/>
<rect x="298" y="601" width="10" height="1.0" fill="#007700"/>
<rect x="312" y="601" width="10" height="3.0" fill="#007700"/>
<rect x="326" y="601" width="10" height="5.0" fill="#007700"/>
<rect x="340" y="601" width="10" height="8.0" fill="#007700"/>
<rect x="354" y="601" width="10" height="11.0" fill="#007700"/>
<rect x="368" y="601" width="10" height="14.0" fill="#007700"/>
<rect x="382" y="601" width="10" height="13.0" fill="#007700"/>
<rect x="396" y="601" width="10" height="16.0" fill="#007700"/>
<rect x="410" y="601" width="10" height="19.0" fill="#007700"/>
<rect x="424" y="601" width="10" height="17.6" fill="#007700"/>
<rect x="438" y="601" width="10" height="17.0" fill="#007700"/>
<rect x="452" y="601" width="10" height="14.0" fill="#007700"/>
<rect x="466" y="601" width="10" height="9.0" fill="#007700"/>
<rect x="480" y="601" width="10" height="4.0" fill="#007700"/>
<rect x="494" y="601" width="10" height="2.0" fill="#007700"/>
<rect x="508" y="597.0" width="10" height="5.0" fill="#007700"/>
<rect x="522" y="593.0" width="10" height="9.0" fill="#007700"/>
<rect x="536" y="590.0" width="10" height="12.0" fill="#007700"/>
<rect x="550" y="590.0" width="10" height="12.0" fill="#007700"/>
<rect x="564" y="592.0" width="10" height="10.0" fill="#007700"/>
<rect x="578" y="594.0" width="10" height="8.0" fill="#007700"/>
<rect x="592" y="594.0" width="10" height="8.0" fill="#007700"/>
<rect x="606" y="599.0" width="10" height="3.0" fill="#007700"/>
<rect x="620" y="601" width="10" height="4.0" fill="#007700"/>
<rect x="634" y="601" width="10" height="6.0" fill="#007700"/>
<rect x="648" y="601" width="10" height="7.0" fill="#007700"/>
<rect x="662" y="601" width="10" height="6.0" fill="#007700"/>
<rect x="676" y="601" width="10" height="7.0" fill="#007700"/>
<rect x="690" y="601" width="10" height="7.0" fill="#007700"/>
<rect x="704" y="601" width="10" height="7.0" fill="#007700"/>
<rect x="718" y="601" width="10" height="7.0" fill="#007700"/>
<rect x="732" y="601" width="10" height="7.7" fill="#007700"/>
<rect x="746" y="601" width="10" height="9.5" fill="#007700"/>
<rect x="760" y="601" width="10" height="11.3" fill="#007700"/>
<rect x="774" y="601" width="10" height="12.8" fill="#007700"/>
<rect x="788" y="601" width="10" height="10.8" fill="#007700"/>
<rect x="802" y="601" width="10" height="7.8" fill="#007700"/>
<rect x="816" y="601" width="10" height="6.6" fill="#007700"/>
<rect x="830" y="601" width="10" height="7.0" fill="#007700"/>
<rect x="844" y="601" width="10" height="8.6" fill="#007700"/>
<rect x="858" y="601" width="10" height="7.8" fill="#007700"/>
<rect x="872" y="601" width="10" height="7.8" fill="#007700"/>
<rect x="886" y="601" width="10" height="7.0" fill="#007700"/>
<polyline fill="none" stroke="#ff22ff" stroke-width="1.15"  points="9.2,581.5 23.1,582.5 37.5,583.2 51.4,583.6 121.6,583.6 135.5,583.2 149.5,581.7 163.4,580.0 177.3,577.8 191.2,576.3 205.1,574.2 233.4,571.7 247.7,570.4 275.6,569.2 303.5,569.2 317.5,569.6 331.4,570.9 345.4,573.1 359.4,576.3 373.3,579.6 387.3,582.3 401.4,586.3 415.5,591.0 429.4,595.5 443.3,599.3 457.4,602.7 471.3,604.7 485.5,605.7 499.4,605.7 513.5,604.4 527.4,602.7 541.3,600.2 555.4,598.2 569.2,595.9 583.5,594.3 597.4,593.1 611.4,592.1 625.4,593.4 639.3,594.8 653.3,596.5 667.3,598.0 681.2,599.3 695.2,601.0 709.2,602.7 723.1,604.3 737.6,605.9 751.5,608.5 765.6,611.5 779.5,614.3 793.4,617.2 807.5,619.4 821.4,621.0 835.3,622.7 849.4,624.7 863.3,626.4 877.2,628.2 891.2,629.9"/>
<polyline fill="none" stroke="#2222ff" stroke-width="1.15"  points="9.2,583.2 23.1,585.3 37.5,585.8 51.4,583.8 65.3,583.2 79.2,584.3 93.6,583.6 107.7,583.2 121.6,583.2 135.5,580.6 149.5,577.2 163.4,574.6 177.3,571.4 191.2,569.3 205.1,566.5 233.4,566.7 247.7,567.2 275.6,567.2 289.5,567.9 303.5,569.2 317.5,572.1 331.4,574.7 345.4,580.4 359.4,585.6 373.3,592.2 387.3,594.4 401.4,601.8 415.5,609.4 429.4,613.2 443.3,615.2 457.4,615.2 471.3,612.7 485.5,609.9 499.4,607.2 513.5,601.8 527.4,596.3 541.3,591.0 555.4,588.1 569.2,587.2 583.5,588.1 597.4,586.7 611.4,590.9 625.4,597.3 639.3,600.6 653.3,602.3 667.3,603.5 681.2,605.2 695.2,606.5 709.2,608.5 723.1,610.5 737.6,614.3 751.5,617.7 765.6,622.7 779.5,627.4 793.4,627.4 807.5,626.1 821.4,627.2 835.3,629.4 849.4,632.4 863.3,633.6 877.2,636.1 891.2,637.0"/>
<text x="902" y="545" font-family="Liberation Sans, sans-serif" font-size="11" fill="#000">4</text>
<text x="902" y="575" font-family="Liberation Sans, sans-serif" font-size="11" fill="#000">2</text>
<text x="902" y="604" font-family="Liberation Sans, sans-serif" font-size="11" fill="#000">0</text>
<text x="902" y="634" font-family="Liberation Sans, sans-serif" font-size="11" fill="#000">-2</text>
<text x="902" y="664" font-family="Liberation Sans, sans-serif" font-size="11" fill="#000">-4</text>
</svg>
</body></html>
